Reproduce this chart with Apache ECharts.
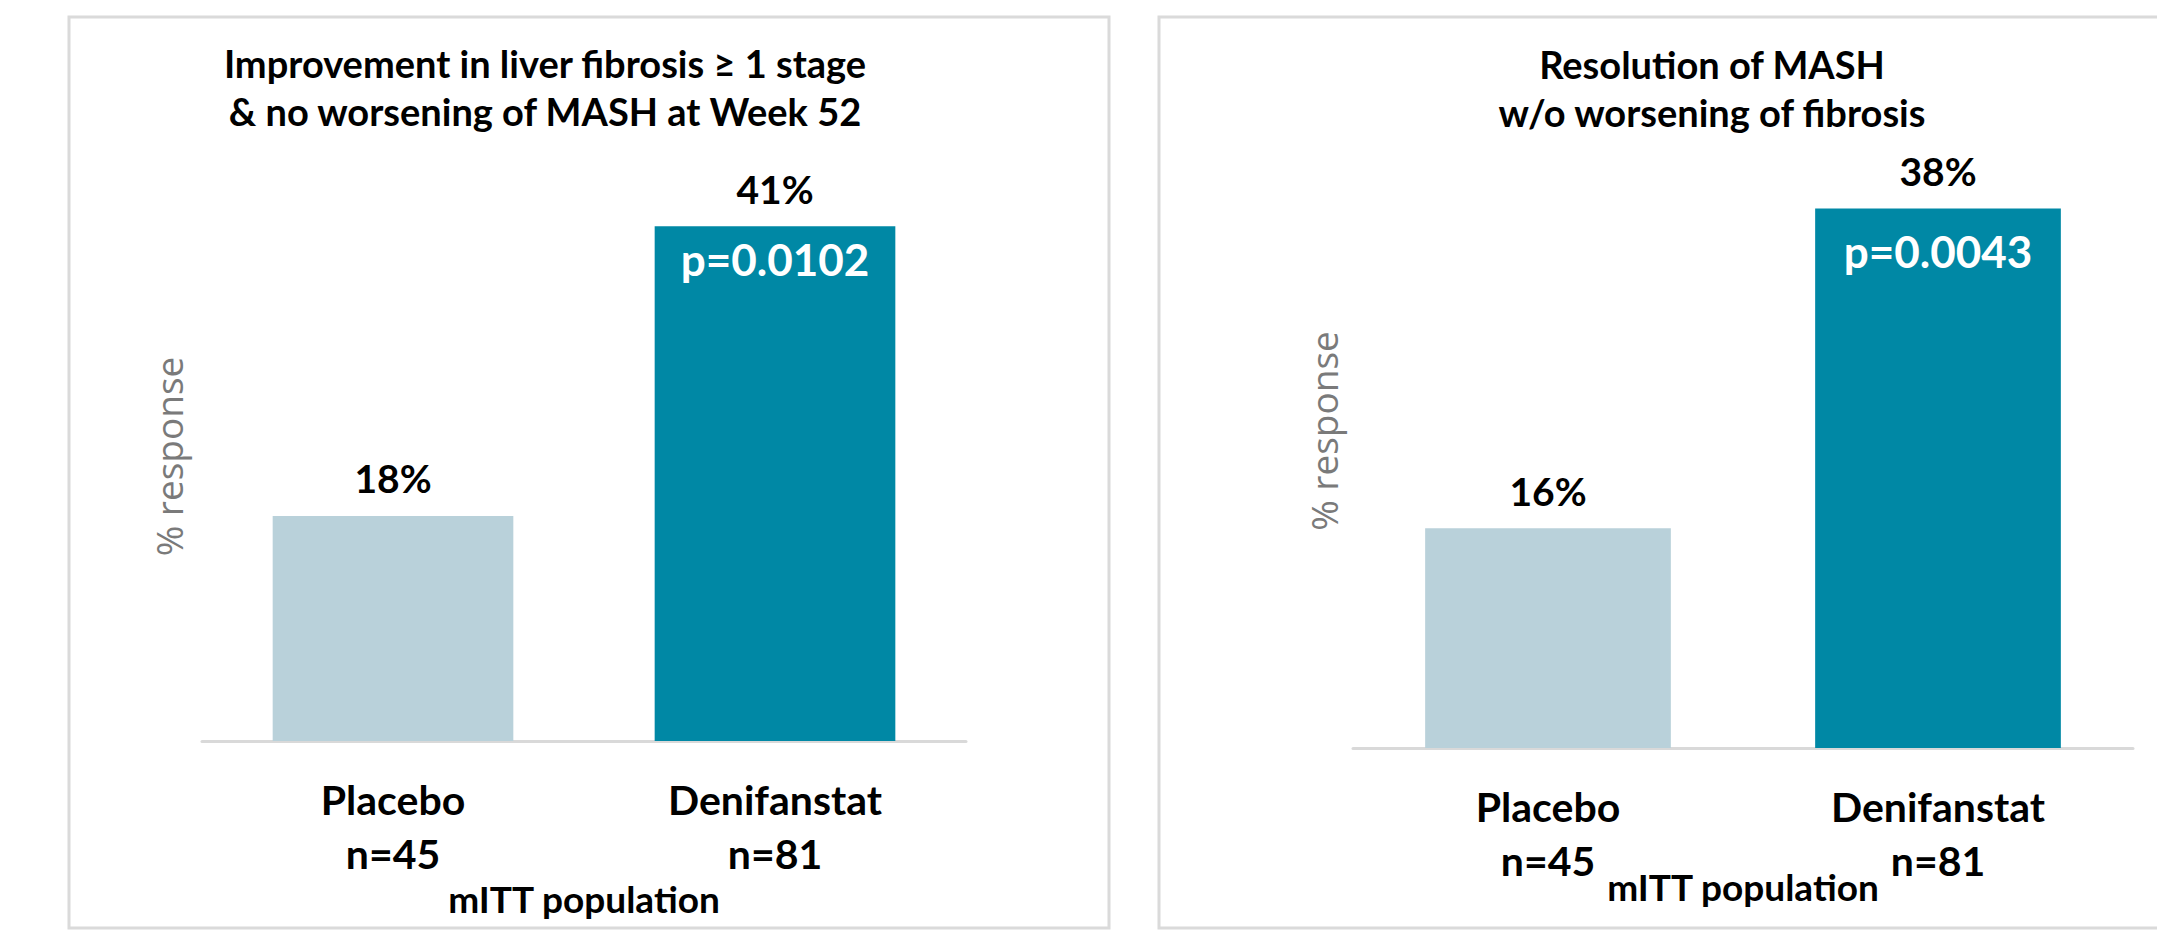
<!DOCTYPE html>
<html>
<head>
<meta charset="utf-8">
<script src="https://cdn.jsdelivr.net/npm/echarts@6/dist/echarts.min.js"></script>
<style>
  html, body { margin: 0; padding: 0; background: #ffffff; }
  #chart { width: 2157px; height: 938px; }
</style>
</head>
<body>
<div id="chart"></div>
<script>
// ---- data ----
const categories = ['Placebo\nn=45', 'Denifanstat\nn=81'];
const fibrosisValues = [17.8, 40.7];
const mashValues = [15.6, 38.3];
const fibrosisPValues = ['', 'p=0.0102'];
const mashPValues = ['', 'p=0.0043'];
const fibrosisTitle = 'Improvement in liver fibrosis \u2265 1 stage\n& no worsening of MASH at Week 52';
const mashTitle = 'Resolution of MASH\nw/o worsening of fibrosis';
const yAxisName = '% response';
const xAxisName = 'mITT population';

// ---- styles ----
const barColors = ['#B9D1DA', '#0088A5'];
const boldFont = 'Lato, "Open Sans", sans-serif';

const chart = echarts.init(document.getElementById('chart'), null, { renderer: 'svg' });

function makeData(values) {
  return values.map((v, i) => ({ value: v, itemStyle: { color: barColors[i] } }));
}

function xAxisCfg(gridIndex, nameGap, margin) {
  return {
    type: 'category', gridIndex: gridIndex, data: categories,
    axisLine: { lineStyle: { color: '#D9D9D9', width: 3 } },
    axisTick: { show: false },
    axisLabel: { margin: margin, fontFamily: boldFont, fontWeight: 'bold', fontSize: 41, lineHeight: 54, color: '#000' },
    name: xAxisName, nameLocation: 'middle', nameGap: nameGap, nameMoveOverlap: false,
    nameTextStyle: { fontFamily: boldFont, fontWeight: 'bold', fontSize: 37, color: '#000' }
  };
}
function yAxisCfg(gridIndex, nameGap) {
  return {
    type: 'value', gridIndex: gridIndex, min: 0, max: 45,
    axisLine: { show: false }, axisTick: { show: false }, axisLabel: { show: false }, splitLine: { show: false },
    name: yAxisName, nameLocation: 'middle', nameGap: nameGap, nameRotate: 90,
    nameTextStyle: { fontFamily: '"Open Sans", sans-serif', fontSize: 37, color: '#7A7A7A' }
  };
}
function barSeries(idx, values) {
  return {
    type: 'bar', xAxisIndex: idx, yAxisIndex: idx, data: makeData(values), barWidth: '63%', barGap: '-100%',
    label: { show: true, position: 'top', distance: 18, formatter: p => Math.round(p.value) + '%',
      fontFamily: boldFont, fontWeight: 'bold', fontSize: 39, color: '#000' }
  };
}
function pSeries(idx, values, pvals, dist) {
  return {
    type: 'bar', xAxisIndex: idx, yAxisIndex: idx, data: values, barWidth: '63%', barGap: '-100%',
    itemStyle: { color: 'rgba(0,0,0,0)' }, silent: true,
    label: { show: true, position: 'insideTop', distance: dist, formatter: p => pvals[p.dataIndex],
      fontFamily: boldFont, fontWeight: 'bold', fontSize: 44, color: '#fff' }
  };
}

const option = {
  backgroundColor: '#fff',
  animation: false,
  graphic: [
    { type: 'rect', shape: { x: 69, y: 17, width: 1040, height: 911 }, style: { fill: 'none', stroke: '#DADADA', lineWidth: 3 } },
    { type: 'rect', shape: { x: 1159, y: 17, width: 1010, height: 911 }, style: { fill: 'none', stroke: '#DADADA', lineWidth: 3 } },
    { type: 'text', x: 545, y: 39, style: { text: fibrosisTitle, align: 'center', verticalAlign: 'top', lineHeight: 48,
      fontFamily: boldFont, fontWeight: 'bold', fontSize: 38, fill: '#000' } },
    { type: 'text', x: 1712, y: 40, style: { text: mashTitle, align: 'center', verticalAlign: 'top', lineHeight: 48,
      fontFamily: boldFont, fontWeight: 'bold', fontSize: 38, fill: '#000' } }
  ],
  grid: [
    { left: 202, width: 764, top: 172, bottom: 197 },
    { left: 1353, right: 24, top: 114, bottom: 190 }
  ],
  xAxis: [xAxisCfg(0, 139, 31), xAxisCfg(1, 120, 31)],
  yAxis: [yAxisCfg(0, 15), yAxisCfg(1, 11)],
  series: [
    barSeries(0, fibrosisValues),
    pSeries(0, fibrosisValues, fibrosisPValues, 11),
    barSeries(1, mashValues),
    pSeries(1, mashValues, mashPValues, 21)
  ]
};
chart.setOption(option);
</script>
</body>
</html>
